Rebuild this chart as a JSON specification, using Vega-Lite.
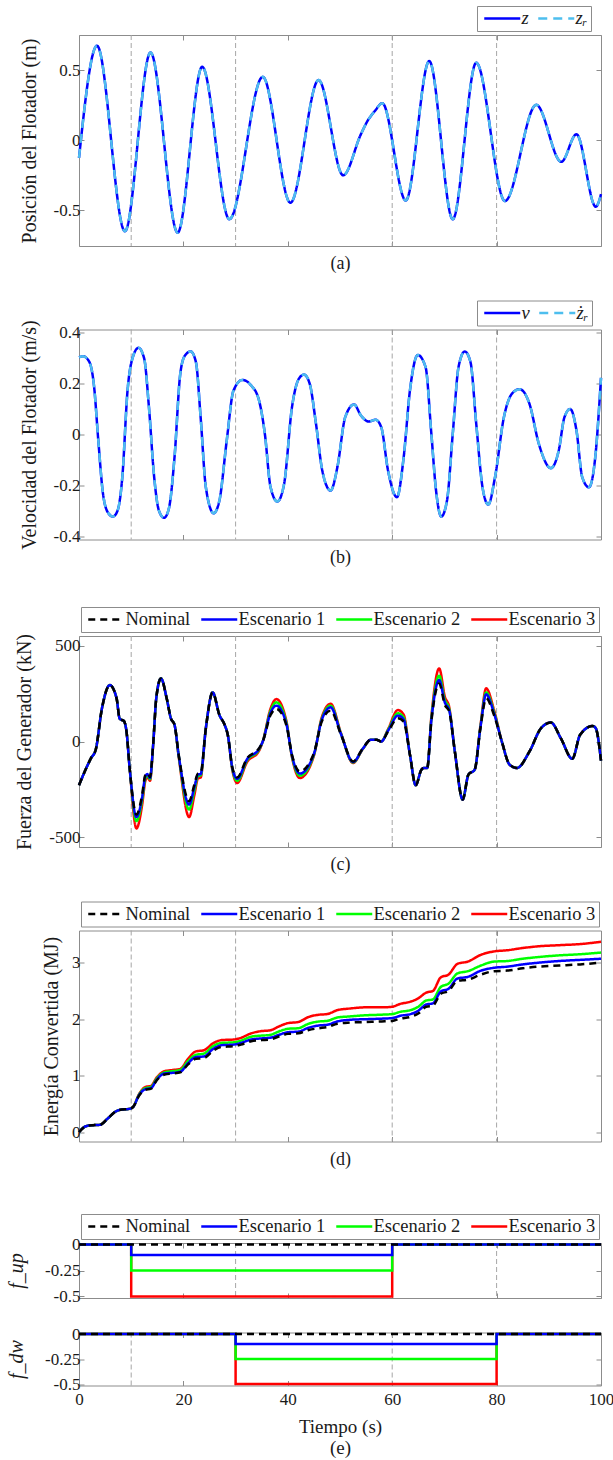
{
  "$schema": "https://vega.github.io/schema/vega-lite/v6.json",
  "padding": {"left": 6, "top": 5, "right": 0, "bottom": 4},
  "config": {
    "font": "Liberation Serif",
    "view": {"stroke": "#8c8c8c", "strokeWidth": 1},
    "axis": {
      "labelFont": "Liberation Serif", "titleFont": "Liberation Serif",
      "labelFontSize": 17, "titleFontSize": 20, "titleFontWeight": "normal",
      "labelColor": "#1a1a1a", "titleColor": "#1a1a1a",
      "tickColor": "#8c8c8c", "tickSize": -5, "tickWidth": 1,
      "domain": false, "grid": false, "labelPadding": 4, "labelFlush": false
    },
    "legend": {"labelFont": "Liberation Serif", "labelColor": "#1a1a1a"}
  },
  "datasets": {
    "faults": [{"t": 10}, {"t": 30}, {"t": 60}, {"t": 80}],
    "pos": [
      {"t": 0, "z": -0.125}, {"t": 3.45, "z": 0.675}, {"t": 8.8, "z": -0.65}, {"t": 13.7, "z": 0.627},
      {"t": 18.9, "z": -0.66}, {"t": 23.6, "z": 0.525}, {"t": 28.8, "z": -0.564}, {"t": 35.2, "z": 0.453},
      {"t": 40.5, "z": -0.446}, {"t": 45.9, "z": 0.43}, {"t": 50.6, "z": -0.25}, {"t": 54.0, "z": 0.043},
      {"t": 55.3, "z": 0.14}, {"t": 56.7, "z": 0.21}, {"t": 58.1, "z": 0.265}, {"t": 62.6, "z": -0.43},
      {"t": 67.1, "z": 0.566}, {"t": 71.6, "z": -0.564}, {"t": 76.1, "z": 0.554}, {"t": 81.6, "z": -0.434},
      {"t": 87.6, "z": 0.253}, {"t": 92.4, "z": -0.154}, {"t": 95.3, "z": 0.043}, {"t": 99.0, "z": -0.475},
      {"t": 100, "z": -0.385}
    ],
    "vel": [
      {"t": 0, "v": 0.303}, {"t": 0.8, "v": 0.307}, {"t": 2.0, "v": 0.284}, {"t": 2.9, "v": 0.186},
      {"t": 3.7, "v": -0.024}, {"t": 4.6, "v": -0.233}, {"t": 5.6, "v": -0.308}, {"t": 6.5, "v": -0.322},
      {"t": 7.4, "v": -0.298}, {"t": 8.3, "v": -0.167}, {"t": 9.3, "v": 0.173}, {"t": 10.3, "v": 0.303},
      {"t": 11.4, "v": 0.34}, {"t": 12.5, "v": 0.297}, {"t": 13.4, "v": 0.107}, {"t": 14.4, "v": -0.167},
      {"t": 15.3, "v": -0.298}, {"t": 16.3, "v": -0.327}, {"t": 17.2, "v": -0.292}, {"t": 18.3, "v": -0.089},
      {"t": 19.4, "v": 0.238}, {"t": 20.3, "v": 0.31}, {"t": 21.4, "v": 0.326}, {"t": 22.4, "v": 0.284},
      {"t": 23.3, "v": 0.068}, {"t": 24.3, "v": -0.207}, {"t": 25.8, "v": -0.309}, {"t": 26.9, "v": -0.259},
      {"t": 28.3, "v": -0.024}, {"t": 29.6, "v": 0.173}, {"t": 31.3, "v": 0.214}, {"t": 33.0, "v": 0.192},
      {"t": 34.5, "v": 0.133}, {"t": 35.6, "v": 0.003}, {"t": 36.7, "v": -0.207}, {"t": 38.0, "v": -0.263},
      {"t": 39.3, "v": -0.193}, {"t": 40.8, "v": 0.107}, {"t": 42.1, "v": 0.218}, {"t": 43.1, "v": 0.235},
      {"t": 44.2, "v": 0.199}, {"t": 45.4, "v": 0.042}, {"t": 46.6, "v": -0.141}, {"t": 48.2, "v": -0.22},
      {"t": 49.5, "v": -0.128}, {"t": 51.0, "v": 0.068}, {"t": 52.7, "v": 0.118}, {"t": 54.0, "v": 0.075},
      {"t": 55.5, "v": 0.051}, {"t": 56.8, "v": 0.058}, {"t": 57.9, "v": 0.029}, {"t": 59.2, "v": -0.141},
      {"t": 60.9, "v": -0.246}, {"t": 62.2, "v": -0.089}, {"t": 63.4, "v": 0.173}, {"t": 64.9, "v": 0.312},
      {"t": 66.4, "v": 0.264}, {"t": 67.5, "v": 0.003}, {"t": 68.4, "v": -0.22}, {"t": 69.4, "v": -0.322},
      {"t": 70.5, "v": -0.259}, {"t": 71.6, "v": 0.003}, {"t": 72.7, "v": 0.264}, {"t": 73.9, "v": 0.326},
      {"t": 75.0, "v": 0.284}, {"t": 76.1, "v": 0.042}, {"t": 77.3, "v": -0.207}, {"t": 78.4, "v": -0.275},
      {"t": 79.7, "v": -0.167}, {"t": 81.4, "v": 0.068}, {"t": 82.9, "v": 0.159}, {"t": 84.4, "v": 0.178},
      {"t": 86.3, "v": 0.12}, {"t": 88.1, "v": -0.037}, {"t": 90.4, "v": -0.132}, {"t": 91.9, "v": -0.063},
      {"t": 93.0, "v": 0.068}, {"t": 94.1, "v": 0.1}, {"t": 95.3, "v": 0.016}, {"t": 96.4, "v": -0.167},
      {"t": 97.7, "v": -0.207}, {"t": 98.9, "v": -0.089}, {"t": 100, "v": 0.222}
    ],
    "force": [
      {"t": 0, "N": -228, "E1": -228, "E2": -228, "E3": -228},
      {"t": 1.4, "N": -138, "E1": -138, "E2": -138, "E3": -138},
      {"t": 2.3, "N": -87, "E1": -87, "E2": -87, "E3": -87},
      {"t": 3.2, "N": -43, "E1": -43, "E2": -43, "E3": -43},
      {"t": 4.4, "N": 173, "E1": 173, "E2": 173, "E3": 173},
      {"t": 5.9, "N": 294, "E1": 294, "E2": 294, "E3": 294},
      {"t": 7.2, "N": 225, "E1": 225, "E2": 225, "E3": 225},
      {"t": 7.8, "N": 118, "E1": 118, "E2": 118, "E3": 118},
      {"t": 8.6, "N": 107, "E1": 107, "E2": 107, "E3": 107},
      {"t": 9.1, "N": 52, "E1": 52, "E2": 52, "E3": 52},
      {"t": 9.7, "N": -138, "E1": -138, "E2": -138, "E3": -138},
      {"t": 11.0, "N": -381, "E1": -394, "E2": -415, "E3": -453},
      {"t": 12.1, "N": -277, "E1": -290, "E2": -305, "E3": -330},
      {"t": 12.7, "N": -175, "E1": -182, "E2": -192, "E3": -206},
      {"t": 13.1, "N": -165, "E1": -170, "E2": -177, "E3": -186},
      {"t": 13.6, "N": -185, "E1": -190, "E2": -196, "E3": -205},
      {"t": 14.2, "N": -17, "E1": -18, "E2": -19, "E3": -22},
      {"t": 14.8, "N": 225, "E1": 225, "E2": 225, "E3": 225},
      {"t": 15.7, "N": 329, "E1": 329, "E2": 329, "E3": 329},
      {"t": 16.8, "N": 225, "E1": 225, "E2": 225, "E3": 225},
      {"t": 17.6, "N": 121, "E1": 121, "E2": 121, "E3": 121},
      {"t": 18.3, "N": 87, "E1": 87, "E2": 87, "E3": 87},
      {"t": 19.1, "N": -69, "E1": -72, "E2": -75, "E3": -80},
      {"t": 21.1, "N": -311, "E1": -329, "E2": -355, "E3": -394},
      {"t": 22.1, "N": -225, "E1": -238, "E2": -255, "E3": -280},
      {"t": 22.8, "N": -166, "E1": -172, "E2": -180, "E3": -192},
      {"t": 23.3, "N": -164, "E1": -170, "E2": -177, "E3": -188},
      {"t": 24.3, "N": 69, "E1": 69, "E2": 69, "E3": 69},
      {"t": 25.6, "N": 256, "E1": 256, "E2": 256, "E3": 256},
      {"t": 26.9, "N": 138, "E1": 138, "E2": 138, "E3": 138},
      {"t": 27.9, "N": 87, "E1": 87, "E2": 87, "E3": 87},
      {"t": 28.5, "N": 35, "E1": 35, "E2": 35, "E3": 35},
      {"t": 29.4, "N": -138, "E1": -142, "E2": -146, "E3": -152},
      {"t": 30.3, "N": -187, "E1": -195, "E2": -205, "E3": -216},
      {"t": 32.2, "N": -87, "E1": -92, "E2": -98, "E3": -107},
      {"t": 34.5, "N": -35, "E1": -38, "E2": -42, "E3": -48},
      {"t": 35.2, "N": 0, "E1": 0, "E2": 0, "E3": 0},
      {"t": 36.7, "N": 138, "E1": 150, "E2": 160, "E3": 172},
      {"t": 37.8, "N": 170, "E1": 187, "E2": 204, "E3": 221},
      {"t": 39.7, "N": 87, "E1": 95, "E2": 102, "E3": 110},
      {"t": 40.8, "N": -69, "E1": -73, "E2": -77, "E3": -82},
      {"t": 42.3, "N": -156, "E1": -167, "E2": -178, "E3": -190},
      {"t": 45.0, "N": -61, "E1": -65, "E2": -69, "E3": -74},
      {"t": 46.5, "N": 104, "E1": 112, "E2": 118, "E3": 125},
      {"t": 48.2, "N": 161, "E1": 178, "E2": 187, "E3": 197},
      {"t": 50.2, "N": 35, "E1": 38, "E2": 40, "E3": 43},
      {"t": 52.5, "N": -104, "E1": -107, "E2": -109, "E3": -112},
      {"t": 54.4, "N": -35, "E1": -36, "E2": -37, "E3": -38},
      {"t": 55.9, "N": 9, "E1": 9, "E2": 9, "E3": 9},
      {"t": 57.0, "N": 9, "E1": 9, "E2": 9, "E3": 9},
      {"t": 57.9, "N": 0, "E1": 0, "E2": 0, "E3": 0},
      {"t": 59.2, "N": 52, "E1": 56, "E2": 60, "E3": 64},
      {"t": 61.1, "N": 121, "E1": 135, "E2": 147, "E3": 164},
      {"t": 62.2, "N": 104, "E1": 115, "E2": 125, "E3": 140},
      {"t": 63.4, "N": -69, "E1": -69, "E2": -69, "E3": -69},
      {"t": 64.5, "N": -228, "E1": -228, "E2": -228, "E3": -228},
      {"t": 65.6, "N": -147, "E1": -147, "E2": -147, "E3": -147},
      {"t": 66.1, "N": -138, "E1": -138, "E2": -138, "E3": -138},
      {"t": 66.7, "N": -138, "E1": -138, "E2": -138, "E3": -138},
      {"t": 67.5, "N": 104, "E1": 110, "E2": 118, "E3": 128},
      {"t": 69.0, "N": 303, "E1": 320, "E2": 343, "E3": 381},
      {"t": 70.1, "N": 190, "E1": 202, "E2": 215, "E3": 232},
      {"t": 70.9, "N": 159, "E1": 165, "E2": 172, "E3": 182},
      {"t": 72.0, "N": -52, "E1": -52, "E2": -52, "E3": -52},
      {"t": 73.5, "N": -303, "E1": -303, "E2": -303, "E3": -303},
      {"t": 74.6, "N": -173, "E1": -173, "E2": -173, "E3": -173},
      {"t": 75.8, "N": -147, "E1": -147, "E2": -147, "E3": -147},
      {"t": 76.9, "N": 69, "E1": 72, "E2": 76, "E3": 82},
      {"t": 78.0, "N": 225, "E1": 246, "E2": 256, "E3": 277},
      {"t": 79.5, "N": 138, "E1": 148, "E2": 155, "E3": 165},
      {"t": 81.0, "N": 0, "E1": 0, "E2": 0, "E3": 0},
      {"t": 82.5, "N": -121, "E1": -121, "E2": -121, "E3": -121},
      {"t": 83.9, "N": -138, "E1": -138, "E2": -138, "E3": -138},
      {"t": 86.3, "N": -52, "E1": -52, "E2": -52, "E3": -52},
      {"t": 88.5, "N": 69, "E1": 69, "E2": 69, "E3": 69},
      {"t": 90.4, "N": 99, "E1": 99, "E2": 99, "E3": 99},
      {"t": 92.3, "N": 17, "E1": 17, "E2": 17, "E3": 17},
      {"t": 94.5, "N": -90, "E1": -90, "E2": -90, "E3": -90},
      {"t": 96.0, "N": 35, "E1": 35, "E2": 35, "E3": 35},
      {"t": 98.4, "N": 81, "E1": 81, "E2": 81, "E3": 81},
      {"t": 99.0, "N": 69, "E1": 69, "E2": 69, "E3": 69},
      {"t": 100, "N": -100, "E1": -100, "E2": -100, "E3": -100}
    ],
    "energy": [
      {"t": 0, "N": 0, "E1": 0, "E2": 0, "E3": 0},
      {"t": 1.0, "N": 0.09, "E1": 0.09, "E2": 0.09, "E3": 0.09},
      {"t": 2.0, "N": 0.12, "E1": 0.12, "E2": 0.12, "E3": 0.12},
      {"t": 4.0, "N": 0.13, "E1": 0.13, "E2": 0.13, "E3": 0.13},
      {"t": 5.6, "N": 0.25, "E1": 0.25, "E2": 0.25, "E3": 0.25},
      {"t": 7.1, "N": 0.37, "E1": 0.37, "E2": 0.37, "E3": 0.37},
      {"t": 8.2, "N": 0.4, "E1": 0.4, "E2": 0.4, "E3": 0.4},
      {"t": 9.5, "N": 0.41, "E1": 0.41, "E2": 0.41, "E3": 0.41},
      {"t": 10.3, "N": 0.44, "E1": 0.44, "E2": 0.44, "E3": 0.44},
      {"t": 11.6, "N": 0.66, "E1": 0.67, "E2": 0.68, "E3": 0.69},
      {"t": 12.7, "N": 0.75, "E1": 0.76, "E2": 0.78, "E3": 0.8},
      {"t": 13.8, "N": 0.77, "E1": 0.78, "E2": 0.8, "E3": 0.82},
      {"t": 14.9, "N": 0.92, "E1": 0.93, "E2": 0.95, "E3": 0.97},
      {"t": 16.4, "N": 1.02, "E1": 1.04, "E2": 1.06, "E3": 1.08},
      {"t": 17.9, "N": 1.04, "E1": 1.05, "E2": 1.08, "E3": 1.1},
      {"t": 19.4, "N": 1.06, "E1": 1.07, "E2": 1.1, "E3": 1.12},
      {"t": 20.9, "N": 1.2, "E1": 1.22, "E2": 1.26, "E3": 1.3},
      {"t": 22.4, "N": 1.3, "E1": 1.33, "E2": 1.37, "E3": 1.43},
      {"t": 23.9, "N": 1.31, "E1": 1.34, "E2": 1.39, "E3": 1.45},
      {"t": 25.8, "N": 1.45, "E1": 1.48, "E2": 1.53, "E3": 1.58},
      {"t": 27.3, "N": 1.51, "E1": 1.54, "E2": 1.58, "E3": 1.63},
      {"t": 29.6, "N": 1.52, "E1": 1.55, "E2": 1.59, "E3": 1.64},
      {"t": 31.0, "N": 1.55, "E1": 1.58, "E2": 1.62, "E3": 1.67},
      {"t": 33.0, "N": 1.61, "E1": 1.64, "E2": 1.69, "E3": 1.75},
      {"t": 35.0, "N": 1.63, "E1": 1.66, "E2": 1.71, "E3": 1.79},
      {"t": 36.5, "N": 1.64, "E1": 1.67, "E2": 1.72, "E3": 1.8},
      {"t": 38.5, "N": 1.7, "E1": 1.73, "E2": 1.79, "E3": 1.88},
      {"t": 40.0, "N": 1.74, "E1": 1.77, "E2": 1.83, "E3": 1.93},
      {"t": 42.0, "N": 1.75, "E1": 1.78, "E2": 1.84, "E3": 1.95},
      {"t": 44.0, "N": 1.81, "E1": 1.85, "E2": 1.92, "E3": 2.04},
      {"t": 46.0, "N": 1.84, "E1": 1.89, "E2": 1.96, "E3": 2.08},
      {"t": 47.5, "N": 1.86, "E1": 1.9, "E2": 1.97, "E3": 2.09},
      {"t": 49.5, "N": 1.92, "E1": 1.96, "E2": 2.03, "E3": 2.16},
      {"t": 52.0, "N": 1.94, "E1": 1.99, "E2": 2.05, "E3": 2.19},
      {"t": 55.0, "N": 1.95, "E1": 2.0, "E2": 2.07, "E3": 2.21},
      {"t": 58.0, "N": 1.96, "E1": 2.01, "E2": 2.08, "E3": 2.21},
      {"t": 60.0, "N": 1.97, "E1": 2.02, "E2": 2.09, "E3": 2.22},
      {"t": 61.5, "N": 2.01, "E1": 2.06, "E2": 2.13, "E3": 2.27},
      {"t": 63.5, "N": 2.04, "E1": 2.09, "E2": 2.16, "E3": 2.31},
      {"t": 65.0, "N": 2.1, "E1": 2.15, "E2": 2.22, "E3": 2.37},
      {"t": 66.5, "N": 2.22, "E1": 2.26, "E2": 2.33, "E3": 2.47},
      {"t": 67.8, "N": 2.24, "E1": 2.28, "E2": 2.35, "E3": 2.5},
      {"t": 69.3, "N": 2.45, "E1": 2.49, "E2": 2.57, "E3": 2.74},
      {"t": 70.8, "N": 2.5, "E1": 2.54, "E2": 2.63, "E3": 2.79},
      {"t": 72.5, "N": 2.68, "E1": 2.72, "E2": 2.81, "E3": 2.98},
      {"t": 74.5, "N": 2.7, "E1": 2.75, "E2": 2.85, "E3": 3.02},
      {"t": 77.0, "N": 2.79, "E1": 2.86, "E2": 2.95, "E3": 3.14},
      {"t": 79.5, "N": 2.85, "E1": 2.91, "E2": 3.02, "E3": 3.2},
      {"t": 82.0, "N": 2.86, "E1": 2.93, "E2": 3.03, "E3": 3.22},
      {"t": 85.0, "N": 2.9, "E1": 2.97, "E2": 3.07, "E3": 3.26},
      {"t": 88.0, "N": 2.93, "E1": 3.0, "E2": 3.1, "E3": 3.29},
      {"t": 92.0, "N": 2.95, "E1": 3.03, "E2": 3.13, "E3": 3.31},
      {"t": 96.0, "N": 2.97, "E1": 3.05, "E2": 3.15, "E3": 3.33},
      {"t": 100, "N": 3.0, "E1": 3.07, "E2": 3.18, "E3": 3.37}
    ],
    "fup": [
      {"t": 0, "N": 0, "E1": 0, "E2": 0, "E3": 0},
      {"t": 10, "N": 0, "E1": -0.1, "E2": -0.25, "E3": -0.5},
      {"t": 60, "N": 0, "E1": 0, "E2": 0, "E3": 0},
      {"t": 100, "N": 0, "E1": 0, "E2": 0, "E3": 0}
    ],
    "fdw": [
      {"t": 0, "N": 0, "E1": 0, "E2": 0, "E3": 0},
      {"t": 30, "N": 0, "E1": -0.1, "E2": -0.25, "E3": -0.5},
      {"t": 80, "N": 0, "E1": 0, "E2": 0, "E3": 0},
      {"t": 100, "N": 0, "E1": 0, "E2": 0, "E3": 0}
    ]
  },
  "spacing": 19.5,
  "bounds": "full",
  "resolve": {
    "scale": {"color": "independent", "strokeDash": "independent"},
    "legend": {"color": "independent", "strokeDash": "independent"}
  },
  "vconcat": [
    {
      "width": 522, "height": 211,
      "resolve": {"axis": {"x": "independent", "y": "independent"}},
      "layer": [
        {
          "data": {"name": "faults"},
          "mark": {"type": "rule", "color": "#a6a6a6", "strokeDash": [5, 3], "strokeWidth": 1},
          "encoding": {"x": {"field": "t", "type": "quantitative", "scale": {"domain": [0, 100]},
            "axis": {"orient": "top", "labels": false, "title": null, "values": [0, 20, 40, 60, 80, 100]}}}
        },
        {
          "data": {"name": "pos"},
          "mark": {"type": "line", "interpolate": "monotone", "strokeWidth": 2.5},
          "encoding": {
            "x": {"field": "t", "type": "quantitative", "scale": {"domain": [0, 100]},
              "axis": {"orient": "bottom", "labels": false, "values": [0, 20, 40, 60, 80, 100], "title": ["(a)", ""], "titleFontSize": 18, "titlePadding": 8, "titleLineHeight": 7}},
            "y": {"field": "z", "type": "quantitative", "scale": {"domain": [-0.755, 0.752], "nice": false, "zero": false},
              "axis": {"values": [-0.5, 0, 0.5], "title": "Posición del Flotador (m)", "titlePadding": 14, "labelExpr": "'' + datum.value"}},
            "color": {"datum": "z", "type": "nominal", "scale": {"domain": ["z", "zᵣ"], "range": ["#0000ff", "#4dbeee"]},
              "legend": {"orient": "none", "legendX": 398, "legendY": -29, "direction": "horizontal", "title": null, "symbolType": "M-1,0H6.2", "symbolSize": 100, "symbolStrokeWidth": 2.5, "labelFontSize": 18.5, "labelFontStyle": "italic", "labelOffset": 23, "columnPadding": 4, "padding": 3, "strokeColor": "#8c8c8c", "fillColor": "white"}},
            "strokeDash": {"datum": "z", "type": "nominal", "scale": {"domain": ["z", "zᵣ"], "range": [[1, 0], [9, 6]]},
              "legend": {"orient": "none", "legendX": 398, "legendY": -29, "direction": "horizontal", "title": null, "symbolType": "M-1,0H6.2", "symbolSize": 100, "symbolStrokeWidth": 2.5, "labelFontSize": 18.5, "labelFontStyle": "italic", "labelOffset": 23, "columnPadding": 4, "padding": 3, "strokeColor": "#8c8c8c", "fillColor": "white"}}
          }
        },
        {
          "data": {"name": "pos"},
          "mark": {"type": "line", "interpolate": "monotone", "strokeWidth": 2.5},
          "encoding": {
            "x": {"field": "t", "type": "quantitative", "axis": null},
            "y": {"field": "z", "type": "quantitative", "axis": {"orient": "right", "labels": false, "title": null, "values": [-0.5, 0, 0.5]}},
            "color": {"datum": "zᵣ", "type": "nominal"},
            "strokeDash": {"datum": "zᵣ", "type": "nominal"}
          }
        }
      ]
    },
    {
      "width": 522, "height": 210,
      "resolve": {"axis": {"x": "independent", "y": "independent"}},
      "layer": [
        {
          "data": {"name": "faults"},
          "mark": {"type": "rule", "color": "#a6a6a6", "strokeDash": [5, 3], "strokeWidth": 1},
          "encoding": {"x": {"field": "t", "type": "quantitative", "scale": {"domain": [0, 100]},
            "axis": {"orient": "top", "labels": false, "title": null, "values": [0, 20, 40, 60, 80, 100]}}}
        },
        {
          "data": {"name": "vel"},
          "mark": {"type": "line", "interpolate": "monotone", "strokeWidth": 2.5},
          "encoding": {
            "x": {"field": "t", "type": "quantitative", "scale": {"domain": [0, 100]},
              "axis": {"orient": "bottom", "labels": false, "values": [0, 20, 40, 60, 80, 100], "title": ["(b)", ""], "titleFontSize": 18, "titlePadding": 8, "titleLineHeight": 19.5}},
            "y": {"field": "v", "type": "quantitative", "scale": {"domain": [-0.412, 0.412], "nice": false, "zero": false},
              "axis": {"values": [-0.4, -0.2, 0, 0.2, 0.4], "title": "Velocidad del Flotador (m/s)", "titlePadding": 14, "labelExpr": "'' + datum.value"}},
            "color": {"datum": "v", "type": "nominal", "scale": {"domain": ["v", "żᵣ"], "range": ["#0000ff", "#4dbeee"]},
              "legend": {"orient": "none", "legendX": 398, "legendY": -29, "direction": "horizontal", "title": null, "symbolType": "M-1,0H6.2", "symbolSize": 100, "symbolStrokeWidth": 2.5, "labelFontSize": 18.5, "labelFontStyle": "italic", "labelOffset": 23, "columnPadding": 4, "padding": 3, "strokeColor": "#8c8c8c", "fillColor": "white"}},
            "strokeDash": {"datum": "v", "type": "nominal", "scale": {"domain": ["v", "żᵣ"], "range": [[1, 0], [9, 6]]},
              "legend": {"orient": "none", "legendX": 398, "legendY": -29, "direction": "horizontal", "title": null, "symbolType": "M-1,0H6.2", "symbolSize": 100, "symbolStrokeWidth": 2.5, "labelFontSize": 18.5, "labelFontStyle": "italic", "labelOffset": 23, "columnPadding": 4, "padding": 3, "strokeColor": "#8c8c8c", "fillColor": "white"}}
          }
        },
        {
          "data": {"name": "vel"},
          "mark": {"type": "line", "interpolate": "monotone", "strokeWidth": 2.5},
          "encoding": {
            "x": {"field": "t", "type": "quantitative", "axis": null},
            "y": {"field": "v", "type": "quantitative", "axis": {"orient": "right", "labels": false, "title": null, "values": [-0.4, -0.2, 0, 0.2, 0.4]}},
            "color": {"datum": "żᵣ", "type": "nominal"},
            "strokeDash": {"datum": "żᵣ", "type": "nominal"}
          }
        }
      ]
    },
    {
      "width": 522, "height": 211,
      "resolve": {"axis": {"x": "independent", "y": "independent"}},
      "layer": [
        {
          "data": {"name": "faults"},
          "mark": {"type": "rule", "color": "#a6a6a6", "strokeDash": [5, 3], "strokeWidth": 1},
          "encoding": {"x": {"field": "t", "type": "quantitative", "scale": {"domain": [0, 100]},
            "axis": {"orient": "top", "labels": false, "title": null, "values": [0, 20, 40, 60, 80, 100]}}}
        },
        {
          "data": {"name": "force"},
          "mark": {"type": "line", "interpolate": "monotone", "strokeWidth": 2.5},
          "encoding": {
            "x": {"field": "t", "type": "quantitative", "scale": {"domain": [0, 100]},
              "axis": {"orient": "bottom", "labels": false, "values": [0, 20, 40, 60, 80, 100], "title": ["(c)", ""], "titleFontSize": 18, "titlePadding": 8, "titleLineHeight": 6.5}},
            "y": {"field": "E3", "type": "quantitative", "scale": {"domain": [-550, 550], "nice": false, "zero": false},
              "axis": {"values": [-500, 0, 500], "title": "Fuerza del Generador (kN)", "titlePadding": 14, "labelExpr": "'' + datum.value"}},
            "color": {"datum": "Escenario 3", "type": "nominal", "scale": {"domain": ["Nominal", "Escenario 1", "Escenario 2", "Escenario 3"], "range": ["#000000", "#0000ff", "#00ff00", "#ff0000"]},
              "legend": {"orient": "none", "legendX": 2, "legendY": -29, "direction": "horizontal", "title": null, "symbolType": "M-1,0H6.2", "symbolSize": 100, "symbolStrokeWidth": 2.5, "labelFontSize": 18.5, "labelOffset": 23, "columnPadding": 5, "padding": 3, "strokeColor": "#8c8c8c", "fillColor": "white"}},
            "strokeDash": {"datum": "Escenario 3", "type": "nominal", "scale": {"domain": ["Nominal", "Escenario 1", "Escenario 2", "Escenario 3"], "range": [[7, 5], [1, 0], [1, 0], [1, 0]]},
              "legend": {"orient": "none", "legendX": 2, "legendY": -29, "direction": "horizontal", "title": null, "symbolType": "M-1,0H6.2", "symbolSize": 100, "symbolStrokeWidth": 2.5, "labelFontSize": 18.5, "labelOffset": 23, "columnPadding": 5, "padding": 3, "strokeColor": "#8c8c8c", "fillColor": "white"}}
          }
        },
        {
          "data": {"name": "force"},
          "mark": {"type": "line", "interpolate": "monotone", "strokeWidth": 2.5},
          "encoding": {
            "x": {"field": "t", "type": "quantitative", "axis": null},
            "y": {"field": "E2", "type": "quantitative", "axis": null},
            "color": {"datum": "Escenario 2", "type": "nominal"},
            "strokeDash": {"datum": "Escenario 2", "type": "nominal"}
          }
        },
        {
          "data": {"name": "force"},
          "mark": {"type": "line", "interpolate": "monotone", "strokeWidth": 2.5},
          "encoding": {
            "x": {"field": "t", "type": "quantitative", "axis": null},
            "y": {"field": "E1", "type": "quantitative", "axis": null},
            "color": {"datum": "Escenario 1", "type": "nominal"},
            "strokeDash": {"datum": "Escenario 1", "type": "nominal"}
          }
        },
        {
          "data": {"name": "force"},
          "mark": {"type": "line", "interpolate": "monotone", "strokeWidth": 2.5},
          "encoding": {
            "x": {"field": "t", "type": "quantitative", "axis": null},
            "y": {"field": "N", "type": "quantitative", "axis": {"orient": "right", "labels": false, "title": null, "values": [-500, 0, 500]}},
            "color": {"datum": "Nominal", "type": "nominal"},
            "strokeDash": {"datum": "Nominal", "type": "nominal"}
          }
        }
      ]
    },
    {
      "width": 522, "height": 211,
      "resolve": {"axis": {"x": "independent", "y": "independent"}},
      "layer": [
        {
          "data": {"name": "faults"},
          "mark": {"type": "rule", "color": "#a6a6a6", "strokeDash": [5, 3], "strokeWidth": 1},
          "encoding": {"x": {"field": "t", "type": "quantitative", "scale": {"domain": [0, 100]},
            "axis": {"orient": "top", "labels": false, "title": null, "values": [0, 20, 40, 60, 80, 100]}}}
        },
        {
          "data": {"name": "energy"},
          "mark": {"type": "line", "interpolate": "monotone", "strokeWidth": 2.5},
          "encoding": {
            "x": {"field": "t", "type": "quantitative", "scale": {"domain": [0, 100]},
              "axis": {"orient": "bottom", "labels": false, "values": [0, 20, 40, 60, 80, 100], "title": ["(d)", ""], "titleFontSize": 18, "titlePadding": 8, "titleLineHeight": 24.5}},
            "y": {"field": "E3", "type": "quantitative", "scale": {"domain": [-0.165, 3.57], "nice": false, "zero": false},
              "axis": {"values": [0, 1, 2, 3], "title": "Energía Convertida (MJ)", "titlePadding": 10, "labelExpr": "'' + datum.value"}},
            "color": {"datum": "Escenario 3", "type": "nominal", "scale": {"domain": ["Nominal", "Escenario 1", "Escenario 2", "Escenario 3"], "range": ["#000000", "#0000ff", "#00ff00", "#ff0000"]},
              "legend": {"orient": "none", "legendX": 2, "legendY": -29, "direction": "horizontal", "title": null, "symbolType": "M-1,0H6.2", "symbolSize": 100, "symbolStrokeWidth": 2.5, "labelFontSize": 18.5, "labelOffset": 23, "columnPadding": 5, "padding": 3, "strokeColor": "#8c8c8c", "fillColor": "white"}},
            "strokeDash": {"datum": "Escenario 3", "type": "nominal", "scale": {"domain": ["Nominal", "Escenario 1", "Escenario 2", "Escenario 3"], "range": [[7, 5], [1, 0], [1, 0], [1, 0]]},
              "legend": {"orient": "none", "legendX": 2, "legendY": -29, "direction": "horizontal", "title": null, "symbolType": "M-1,0H6.2", "symbolSize": 100, "symbolStrokeWidth": 2.5, "labelFontSize": 18.5, "labelOffset": 23, "columnPadding": 5, "padding": 3, "strokeColor": "#8c8c8c", "fillColor": "white"}}
          }
        },
        {
          "data": {"name": "energy"},
          "mark": {"type": "line", "interpolate": "monotone", "strokeWidth": 2.5},
          "encoding": {
            "x": {"field": "t", "type": "quantitative", "axis": null},
            "y": {"field": "E2", "type": "quantitative", "axis": null},
            "color": {"datum": "Escenario 2", "type": "nominal"},
            "strokeDash": {"datum": "Escenario 2", "type": "nominal"}
          }
        },
        {
          "data": {"name": "energy"},
          "mark": {"type": "line", "interpolate": "monotone", "strokeWidth": 2.5},
          "encoding": {
            "x": {"field": "t", "type": "quantitative", "axis": null},
            "y": {"field": "E1", "type": "quantitative", "axis": null},
            "color": {"datum": "Escenario 1", "type": "nominal"},
            "strokeDash": {"datum": "Escenario 1", "type": "nominal"}
          }
        },
        {
          "data": {"name": "energy"},
          "mark": {"type": "line", "interpolate": "monotone", "strokeWidth": 2.5},
          "encoding": {
            "x": {"field": "t", "type": "quantitative", "axis": null},
            "y": {"field": "N", "type": "quantitative", "axis": {"orient": "right", "labels": false, "title": null, "values": [0, 1, 2, 3]}},
            "color": {"datum": "Nominal", "type": "nominal"},
            "strokeDash": {"datum": "Nominal", "type": "nominal"}
          }
        }
      ]
    },
    {
      "width": 522, "height": 55,
      "resolve": {"axis": {"x": "independent", "y": "independent"}},
      "layer": [
        {
          "data": {"name": "faults"},
          "mark": {"type": "rule", "color": "#a6a6a6", "strokeDash": [5, 3], "strokeWidth": 1},
          "encoding": {"x": {"field": "t", "type": "quantitative", "scale": {"domain": [0, 100]},
            "axis": {"orient": "top", "labels": false, "title": null, "values": [0, 20, 40, 60, 80, 100]}}}
        },
        {
          "data": {"name": "fup"},
          "mark": {"type": "line", "interpolate": "step-after", "strokeWidth": 2.5},
          "encoding": {
            "x": {"field": "t", "type": "quantitative", "scale": {"domain": [0, 100]},
              "axis": {"orient": "bottom", "labels": false, "values": [0, 20, 40, 60, 80, 100], "title": null}},
            "y": {"field": "E3", "type": "quantitative", "scale": {"domain": [-0.515, 0.015], "nice": false, "zero": false},
              "axis": {"values": [-0.5, -0.25, 0], "title": "f_up", "titleFontStyle": "italic", "titlePadding": 18, "labelExpr": "'' + datum.value"}},
            "color": {"datum": "Escenario 3", "type": "nominal", "scale": {"domain": ["Nominal", "Escenario 1", "Escenario 2", "Escenario 3"], "range": ["#000000", "#0000ff", "#00ff00", "#ff0000"]},
              "legend": {"orient": "none", "legendX": 2, "legendY": -29, "direction": "horizontal", "title": null, "symbolType": "M-1,0H6.2", "symbolSize": 100, "symbolStrokeWidth": 2.5, "labelFontSize": 18.5, "labelOffset": 23, "columnPadding": 5, "padding": 3, "strokeColor": "#8c8c8c", "fillColor": "white"}},
            "strokeDash": {"datum": "Escenario 3", "type": "nominal", "scale": {"domain": ["Nominal", "Escenario 1", "Escenario 2", "Escenario 3"], "range": [[7, 5], [1, 0], [1, 0], [1, 0]]},
              "legend": {"orient": "none", "legendX": 2, "legendY": -29, "direction": "horizontal", "title": null, "symbolType": "M-1,0H6.2", "symbolSize": 100, "symbolStrokeWidth": 2.5, "labelFontSize": 18.5, "labelOffset": 23, "columnPadding": 5, "padding": 3, "strokeColor": "#8c8c8c", "fillColor": "white"}}
          }
        },
        {
          "data": {"name": "fup"},
          "mark": {"type": "line", "interpolate": "step-after", "strokeWidth": 2.5},
          "encoding": {
            "x": {"field": "t", "type": "quantitative", "axis": null},
            "y": {"field": "E2", "type": "quantitative", "axis": null},
            "color": {"datum": "Escenario 2", "type": "nominal"},
            "strokeDash": {"datum": "Escenario 2", "type": "nominal"}
          }
        },
        {
          "data": {"name": "fup"},
          "mark": {"type": "line", "interpolate": "step-after", "strokeWidth": 2.5},
          "encoding": {
            "x": {"field": "t", "type": "quantitative", "axis": null},
            "y": {"field": "E1", "type": "quantitative", "axis": null},
            "color": {"datum": "Escenario 1", "type": "nominal"},
            "strokeDash": {"datum": "Escenario 1", "type": "nominal"}
          }
        },
        {
          "data": {"name": "fup"},
          "mark": {"type": "line", "interpolate": "step-after", "strokeWidth": 2.5},
          "encoding": {
            "x": {"field": "t", "type": "quantitative", "axis": null},
            "y": {"field": "N", "type": "quantitative", "axis": {"orient": "right", "labels": false, "title": null, "values": [-0.5, -0.25, 0]}},
            "color": {"datum": "Nominal", "type": "nominal"},
            "strokeDash": {"datum": "Nominal", "type": "nominal"}
          }
        }
      ]
    },
    {
      "width": 522, "height": 53,
      "resolve": {"axis": {"x": "independent", "y": "independent"}},
      "layer": [
        {
          "data": {"name": "faults"},
          "mark": {"type": "rule", "color": "#a6a6a6", "strokeDash": [5, 3], "strokeWidth": 1},
          "encoding": {"x": {"field": "t", "type": "quantitative", "scale": {"domain": [0, 100]},
            "axis": {"orient": "top", "labels": false, "title": null, "values": [0, 20, 40, 60, 80, 100]}}}
        },
        {
          "data": {"name": "fdw"},
          "mark": {"type": "line", "interpolate": "step-after", "strokeWidth": 2.5},
          "encoding": {
            "x": {"field": "t", "type": "quantitative", "scale": {"domain": [0, 100]},
              "axis": {"orient": "bottom", "values": [0, 20, 40, 60, 80, 100], "labelPadding": 11, "title": ["Tiempo (s)", "(e)"], "titleFontSize": 19, "titlePadding": 10, "titleLineHeight": 21}},
            "y": {"field": "E3", "type": "quantitative", "scale": {"domain": [-0.515, 0.015], "nice": false, "zero": false},
              "axis": {"values": [-0.5, -0.25, 0], "title": "f_dw", "titleFontStyle": "italic", "titlePadding": 18, "labelExpr": "'' + datum.value"}},
            "color": {"datum": "Escenario 3", "type": "nominal", "scale": {"domain": ["Nominal", "Escenario 1", "Escenario 2", "Escenario 3"], "range": ["#000000", "#0000ff", "#00ff00", "#ff0000"]}, "legend": null},
            "strokeDash": {"datum": "Escenario 3", "type": "nominal", "scale": {"domain": ["Nominal", "Escenario 1", "Escenario 2", "Escenario 3"], "range": [[7, 5], [1, 0], [1, 0], [1, 0]]}, "legend": null}
          }
        },
        {
          "data": {"name": "fdw"},
          "mark": {"type": "line", "interpolate": "step-after", "strokeWidth": 2.5},
          "encoding": {
            "x": {"field": "t", "type": "quantitative", "axis": null},
            "y": {"field": "E2", "type": "quantitative", "axis": null},
            "color": {"datum": "Escenario 2", "type": "nominal", "legend": null},
            "strokeDash": {"datum": "Escenario 2", "type": "nominal", "legend": null}
          }
        },
        {
          "data": {"name": "fdw"},
          "mark": {"type": "line", "interpolate": "step-after", "strokeWidth": 2.5},
          "encoding": {
            "x": {"field": "t", "type": "quantitative", "axis": null},
            "y": {"field": "E1", "type": "quantitative", "axis": null},
            "color": {"datum": "Escenario 1", "type": "nominal", "legend": null},
            "strokeDash": {"datum": "Escenario 1", "type": "nominal", "legend": null}
          }
        },
        {
          "data": {"name": "fdw"},
          "mark": {"type": "line", "interpolate": "step-after", "strokeWidth": 2.5},
          "encoding": {
            "x": {"field": "t", "type": "quantitative", "axis": null},
            "y": {"field": "N", "type": "quantitative", "axis": {"orient": "right", "labels": false, "title": null, "values": [-0.5, -0.25, 0]}},
            "color": {"datum": "Nominal", "type": "nominal", "legend": null},
            "strokeDash": {"datum": "Nominal", "type": "nominal", "legend": null}
          }
        }
      ]
    }
  ]
}
